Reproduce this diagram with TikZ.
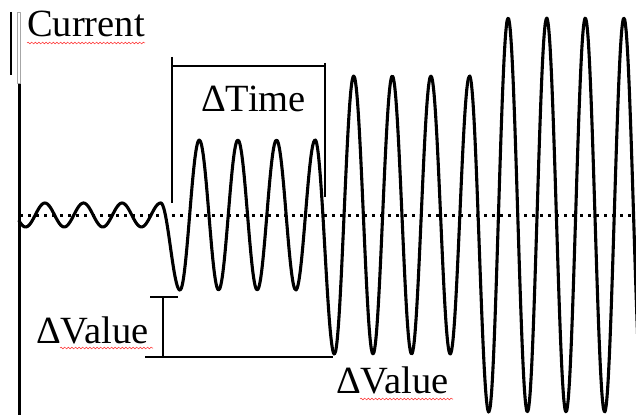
\documentclass[tikz,border=0pt]{standalone}
\usepackage{fontspec}
\setmainfont{Liberation Serif}
\usetikzlibrary{decorations.pathmorphing}

\begin{document}
\begin{tikzpicture}[x=1pt,y=1pt,line cap=round,line join=round,
		wave/.style={black,line width=3.1pt},
		bracket/.style={black,line width=2.7pt,line cap=butt},
		lbl/.style={inner sep=0pt,anchor=base west,font=\fontsize{38.5}{41}\selectfont},
		squiggle/.style={red!85,line width=0.5pt,line cap=butt,decorate,decoration={snake,amplitude=0.9pt,segment length=3.6pt}}]
		\useasboundingbox (0,-200) rectangle (636,215);
		% axis
		\draw[black,line width=3pt,line cap=butt] (19,132) -- (19,-200);
		\draw[gray!70,line width=0.5pt] (17.6,203) rectangle (20.4,132);
		\draw[black,line width=2.7pt,line cap=butt] (11,203) -- (11,140);
		\node[lbl] (cur) at (27,178) {Current};
		\draw[squiggle] (27,172) -- (145,172);
		% zero line
		\draw[black,line width=3pt,line cap=butt,dash pattern=on 3pt off 5pt] (20,0) -- (636,0);
		% signal, amplitude steps at the peaks (period 38.6)
		\foreach \xa/\xb/\cc/\hh in {19/160.7/0/12, 160.7/180/-31.5/43.5, 180/315.1/0/75, 315.1/334.4/-32/107,
				334.4/469.5/0/139, 469.5/488.8/-29/168, 488.8/640/0/197}
			\draw[wave] plot[domain=\xa:\xb,samples=100,smooth] (\x,{\cc-\hh*cos(9.3264*(\x-180))});
		% time bracket
		\draw[bracket] (172,158) -- (172,12);
		\draw[bracket] (172,149) -- (325,149);
		\draw[bracket] (325,152) -- (325,18);
		\node[lbl] (dtime) at (201,103) {ΔTime};
		% value bracket
		\draw[bracket] (150,-82) -- (178,-82);
		\draw[bracket] (163,-82) -- (163,-142);
		\draw[bracket] (145,-142) -- (333,-142);
		\node[lbl] (dvalA) at (36,-128) {ΔValue};
		\draw[squiggle] (60,-133) -- (153,-133);
		\node[lbl] (dvalB) at (336,-178) {ΔValue};
		\draw[squiggle] (360,-184) -- (453,-184);
\end{tikzpicture}
\end{document}
